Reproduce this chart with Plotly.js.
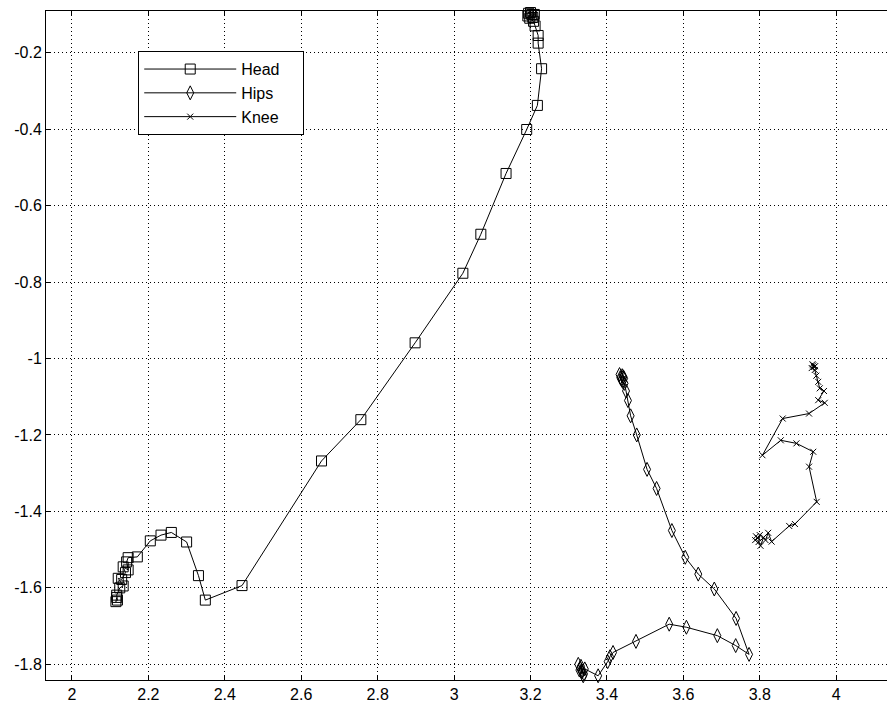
<!DOCTYPE html>
<html>
<head>
<meta charset="utf-8">
<script src="https://cdn.plot.ly/plotly-3.0.1.min.js"></script>
<style>
  html, body { margin: 0; padding: 0; background: #ffffff; overflow: hidden; }
  #plot { width: 900px; height: 704px; }
</style>
</head>
<body>
<div id="plot"></div>
<script>
// Head trajectory (square markers)
var headX = [3.200, 3.195, 3.203, 3.206, 3.193, 3.210, 3.198, 3.208, 3.212,
             3.220, 3.220, 3.229, 3.218, 3.190, 3.136, 3.070, 3.023, 2.898,
             2.756, 2.653, 2.445, 2.349, 2.331, 2.300, 2.260, 2.233, 2.205,
             2.171, 2.147, 2.143, 2.147, 2.134, 2.140, 2.130, 2.121, 2.134,
             2.125, 2.117, 2.119, 2.115, 2.117];
var headY = [-0.095, -0.097, -0.100, -0.108, -0.104, -0.100, -0.110, -0.118, -0.130,
             -0.155, -0.175, -0.242, -0.338, -0.401, -0.516, -0.675, -0.777, -0.959,
             -1.160, -1.268, -1.594, -1.632, -1.568, -1.480, -1.455, -1.462, -1.477,
             -1.519, -1.521, -1.532, -1.553, -1.545, -1.560, -1.578, -1.575, -1.595,
             -1.600, -1.619, -1.632, -1.636, -1.625];

// Hips trajectory (diamond markers)
var hipsX = [3.440, 3.435, 3.443, 3.438, 3.433, 3.445, 3.441, 3.446,
             3.450, 3.455, 3.462, 3.478, 3.505, 3.530, 3.570, 3.605,
             3.639, 3.681, 3.738, 3.772, 3.737, 3.689, 3.608, 3.563,
             3.476, 3.416, 3.408, 3.402, 3.377, 3.342, 3.338, 3.332,
             3.340, 3.335, 3.328, 3.330, 3.325, 3.334];
var hipsY = [-1.045, -1.050, -1.048, -1.055, -1.042, -1.052, -1.060, -1.065,
             -1.085, -1.110, -1.150, -1.200, -1.290, -1.340, -1.450, -1.520,
             -1.564, -1.603, -1.680, -1.774, -1.751, -1.725, -1.703, -1.695,
             -1.740, -1.769, -1.780, -1.793, -1.830, -1.812, -1.830, -1.805,
             -1.825, -1.820, -1.815, -1.810, -1.800, -1.818];

// Knee trajectory (x markers)
var kneeX = [3.940, 3.938, 3.942, 3.945, 3.936, 3.944, 3.948, 3.953,
             3.957, 3.968, 3.953, 3.970, 3.929, 3.860, 3.807, 3.855,
             3.896, 3.940, 3.929, 3.949, 3.892, 3.877, 3.831, 3.822,
             3.815, 3.810, 3.802, 3.797, 3.800, 3.788, 3.795, 3.790];
var kneeY = [-1.018, -1.015, -1.022, -1.020, -1.025, -1.030, -1.045, -1.061,
             -1.078, -1.085, -1.109, -1.116, -1.144, -1.157, -1.253, -1.214,
             -1.222, -1.244, -1.283, -1.375, -1.433, -1.438, -1.479, -1.456,
             -1.475, -1.468, -1.490, -1.480, -1.462, -1.475, -1.470, -1.465];

// Axis ticks
var xTickVals = [2, 2.2, 2.4, 2.6, 2.8, 3, 3.2, 3.4, 3.6, 3.8, 4];
var xTickText = ['2', '2.2', '2.4', '2.6', '2.8', '3', '3.2', '3.4', '3.6', '3.8', '4'];
var yTickVals = [-0.2, -0.4, -0.6, -0.8, -1, -1.2, -1.4, -1.6, -1.8];
var yTickText = ['-0.2', '-0.4', '-0.6', '-0.8', '-1', '-1.2', '-1.4', '-1.6', '-1.8'];

var FONT = 'Liberation Sans, Arial, sans-serif';
var PAD = '\u00a0\u00a0\u00a0\u00a0'; // right padding inside the legend box

function series(name, xs, ys, symbol, size, group) {
  return {
    type: 'scatter',
    mode: 'lines+markers',
    name: name + PAD,
    legendgroup: group,
    x: xs,
    y: ys,
    cliponaxis: false,
    line: { color: '#000000', width: 1 },
    marker: {
      symbol: symbol,
      size: size,
      color: '#000000',
      line: { color: '#000000', width: 1 }
    }
  };
}

var traces = [
  series('Head', headX, headY, 'square-open', 10, 'g1'),
  series('Hips', hipsX, hipsY, 'diamond-tall-open', 10, 'g2'),
  series('Knee', kneeX, kneeY, 'x-thin-open', 6, 'g3')
];

var axisCommon = {
  showline: true,
  linecolor: '#000000',
  linewidth: 1,
  mirror: 'ticks',
  ticks: 'inside',
  ticklen: 5,
  tickwidth: 1,
  tickcolor: '#000000',
  showgrid: true,
  gridcolor: '#000000',
  gridwidth: 1,
  griddash: '1px,3px',
  zeroline: false,
  tickfont: { family: FONT, size: 16, color: '#000000' },
  tickmode: 'array'
};

var layout = {
  width: 900,
  height: 704,
  margin: { l: 46, r: 0, t: 11, b: 24 },
  paper_bgcolor: '#ffffff',
  plot_bgcolor: '#ffffff',
  showlegend: true,
  legend: {
    x: 0.108,
    y: 0.94,
    xanchor: 'left',
    yanchor: 'top',
    bgcolor: '#ffffff',
    bordercolor: '#000000',
    borderwidth: 1,
    tracegroupgap: 0,
    itemwidth: 92,
    font: { family: FONT, size: 16, color: '#000000' }
  },
  xaxis: Object.assign({}, axisCommon, {
    range: [1.932, 4.167],
    tickvals: xTickVals,
    ticktext: xTickText
  }),
  yaxis: Object.assign({}, axisCommon, {
    range: [-1.841, -0.091],
    tickvals: yTickVals,
    ticktext: yTickText
  })
};

Plotly.newPlot('plot', traces, layout, { displayModeBar: false, staticPlot: true });
</script>
</body>
</html>
